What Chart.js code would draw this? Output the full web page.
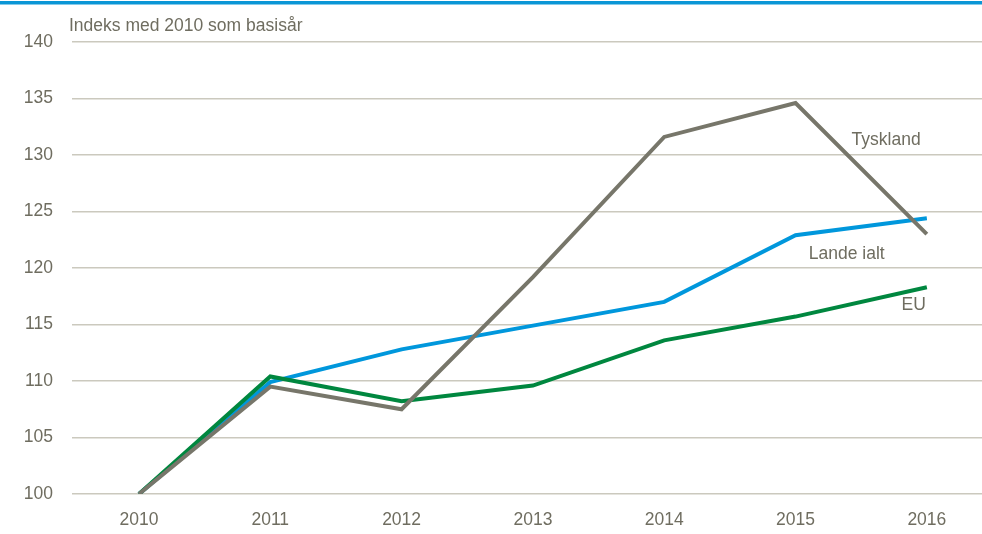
<!DOCTYPE html>
<html>
<head>
<meta charset="utf-8">
<script src="https://cdn.jsdelivr.net/npm/chart.js@4.4.0/dist/chart.umd.min.js"></script>
<style>
html,body{margin:0;padding:0;background:#fff;}
#wrap{width:982px;height:534px;position:relative;}
</style>
</head>
<body>
<div id="wrap"><canvas id="c" width="982" height="534"></canvas></div>
<script>
const years = ['2010','2011','2012','2013','2014','2015','2016'];
const tyskland = [100, 109.5, 107.5, 119.2, 131.6, 134.6, 123.0];
const landeIalt = [100, 109.9, 112.8, 114.9, 117.0, 122.9, 124.4];
const eu = [100, 110.4, 108.2, 109.6, 113.6, 115.7, 118.3];
const yTicks = [100, 105, 110, 115, 120, 125, 130, 135, 140];
const yTitle = 'Indeks med 2010 som basisår';
const seriesNames = ['Tyskland', 'Lande ialt', 'EU'];

const FONT = '"Liberation Sans", Arial, sans-serif';
const FS = 17.5;
const TXT = '#6f6d60';

const toXY = arr => arr.map((v, i) => ({x: i, y: v}));

const decor = {
  id: 'decor',
  beforeDraw(chart) {
    const ctx = chart.ctx;
    ctx.save();
    ctx.fillStyle = '#0a96d6';
    ctx.fillRect(0, 1, chart.width, 3.5);
    ctx.restore();
  },
  afterDraw(chart) {
    const ctx = chart.ctx;
    const xs = chart.scales.x, ys = chart.scales.y;
    ctx.save();
    ctx.fillStyle = TXT;
    ctx.font = FS + 'px ' + FONT;
    ctx.textBaseline = 'middle';
    ctx.textAlign = 'left';
    ctx.fillText(yTitle, 69, 26);
    ctx.textAlign = 'center';
    const labs = [
      {t: seriesNames[0], x: 5.69, y: 131.3},
      {t: seriesNames[1], x: 5.39, y: 121.2},
      {t: seriesNames[2], x: 5.9, y: 116.7}
    ];
    labs.forEach(l => ctx.fillText(l.t, xs.getPixelForValue(l.x), ys.getPixelForValue(l.y)));
    ctx.restore();
  }
};

new Chart(document.getElementById('c'), {
  type: 'line',
  data: {
    datasets: [
      {label: seriesNames[0], data: toXY(tyskland), borderColor: '#77766a', borderWidth: 4, pointRadius: 0, tension: 0, order: 1},
      {label: seriesNames[1], data: toXY(landeIalt), borderColor: '#0097dc', borderWidth: 4, pointRadius: 0, tension: 0, order: 3},
      {label: seriesNames[2], data: toXY(eu), borderColor: '#00873f', borderWidth: 4, pointRadius: 0, tension: 0, order: 2}
    ]
  },
  options: {
    responsive: false,
    animation: false,
    layout: {padding: {top: 42, right: 0, left: 0, bottom: 0}},
    plugins: {legend: {display: false}, tooltip: {enabled: false}},
    scales: {
      x: {
        type: 'linear',
        min: -0.51, max: 6.42,
        afterBuildTicks: s => { s.ticks = years.map((y, i) => ({value: i})); },
        afterFit: s => { s.height = 40; },
        grid: {display: false, drawTicks: false},
        border: {display: false},
        ticks: {
          callback: (v) => years[v],
          color: TXT, font: {family: FONT, size: FS}, padding: 16, maxRotation: 0, autoSkip: false
        }
      },
      y: {
        min: 100, max: 140,
        afterBuildTicks: s => { s.ticks = yTicks.map(v => ({value: v})); },
        afterFit: s => { s.width = 72; },
        grid: {color: '#cbc9be', lineWidth: 1.6, drawTicks: false},
        border: {display: false},
        ticks: {color: TXT, font: {family: FONT, size: FS}, padding: 19}
      }
    }
  },
  plugins: [decor]
});
</script>
</body>
</html>
